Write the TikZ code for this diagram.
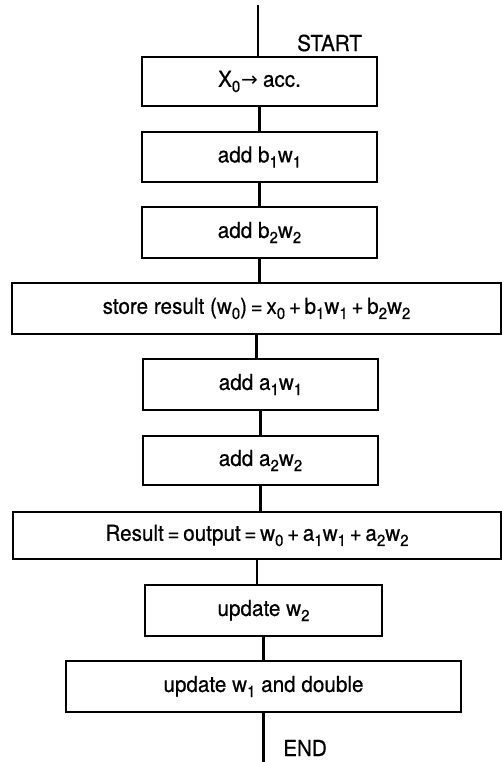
\documentclass[tikz,border=0pt]{standalone}
\usepackage{fontspec}
\setmainfont[FakeStretch=0.94,FakeBold=0.5]{TeX Gyre Heros}
\newfontfamily\arrowfont{DejaVu Sans}
\newcommand\sbs[1]{\raisebox{-0.45ex}{\fontsize{16}{16}\selectfont #1}}
\begin{document}
\begin{tikzpicture}[x=1pt,y=-1pt,
  flowbox/.style={draw=black,line width=1.6pt,rectangle,inner sep=0pt,
    minimum height=50pt,font=\fontsize{22}{26}\selectfont},
  lbl/.style={font=\fontsize{22}{26}\selectfont,anchor=west,inner sep=0pt},
  link/.style={line width=2.2pt}]
\useasboundingbox (0,0) rectangle (502,762);
\coordinate (top) at (258,5);
\coordinate (bot) at (264,762);
\node[flowbox,minimum width=235pt,minimum height=49pt] (b1) at (259.5,81.5) {X\sbs{0}\kern1pt{\arrowfont\fontsize{20}{20}\selectfont →}\kern5pt acc.};
\node[flowbox,minimum width=235pt] (b2) at (259.5,157) {add b\sbs{1}w\sbs{1}};
\node[flowbox,minimum width=235pt,minimum height=51pt] (b3) at (259.5,232.5) {add b\sbs{2}w\sbs{2}};
\node[flowbox,minimum width=489pt,minimum height=51pt] (b4) at (256.5,308.5) {store result (w\sbs{0})\,=\,x\sbs{0}\,+\,b\sbs{1}w\sbs{1}\,+\,b\sbs{2}w\sbs{2}};
\node[flowbox,minimum width=235pt,minimum height=51pt] (b5) at (260.5,384.5) {add a\sbs{1}w\sbs{1}};
\node[flowbox,minimum width=235pt,minimum height=49pt] (b6) at (260.5,460.5) {add a\sbs{2}w\sbs{2}};
\node[flowbox,minimum width=488pt,minimum height=47pt] (b7) at (257,535.5) {Result\,=\,output\,=\,w\sbs{0}\,+\,a\sbs{1}w\sbs{1}\,+\,a\sbs{2}w\sbs{2}};
\node[flowbox,minimum width=237pt,minimum height=51pt] (b8) at (263.5,610.5) {update w\sbs{2}};
\node[flowbox,minimum width=395pt,minimum height=51pt] (b9) at (263.5,686.5) {update w\sbs{1} and double};
\node[lbl] (start) at (297,43) {START};
\node[lbl] (endlbl) at (283,748) {END};
\draw[link] (top) -- (top |- b1.north);
\foreach \a/\b in {b1/b2,b2/b3,b3/b4,b4/b5,b5/b6,b6/b7,b7/b8,b8/b9}
  \draw[link] (\a.south) -- (\a.south |- \b.north);
\draw[link] (b9.south) -- (b9.south |- bot);
\end{tikzpicture}
\end{document}
